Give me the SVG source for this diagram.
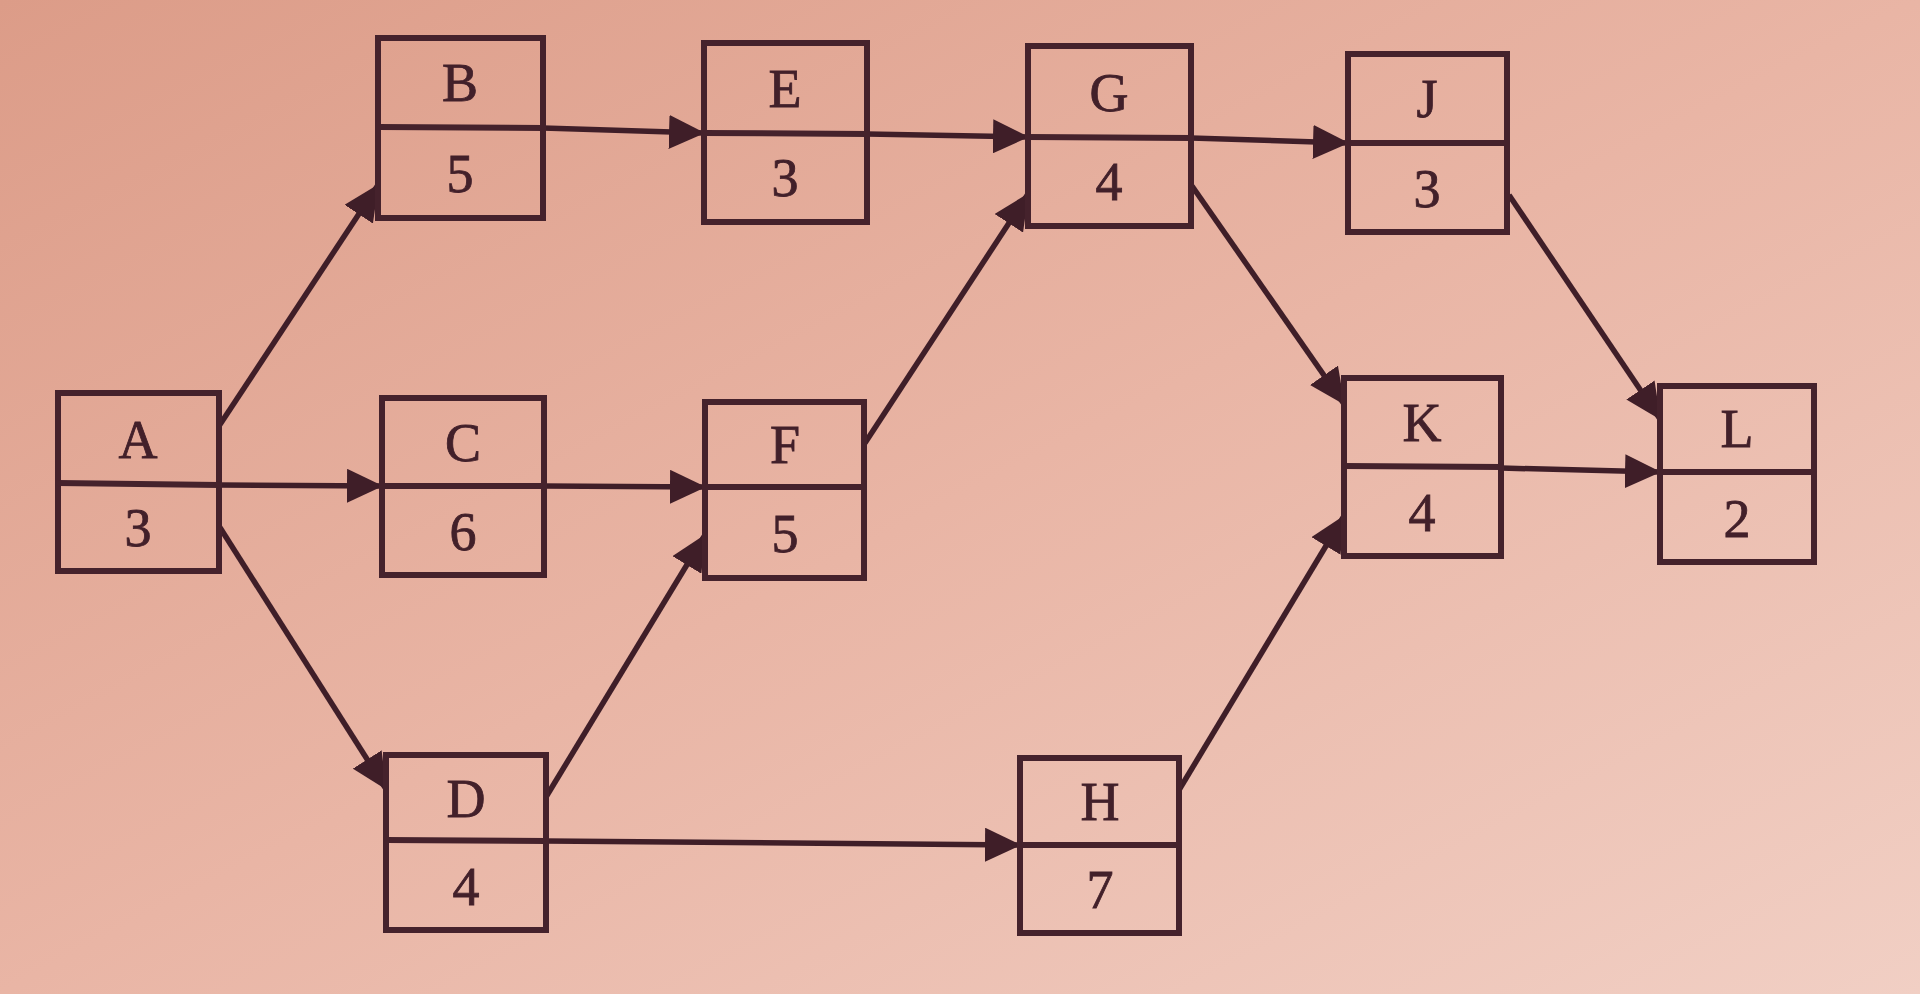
<svg xmlns="http://www.w3.org/2000/svg" width="1920" height="994" viewBox="0 0 1920 994">
<defs>
<linearGradient id="bg" x1="0" y1="0" x2="1" y2="1">
<stop offset="0" stop-color="#dc9c88"/>
<stop offset="0.5" stop-color="#e9b5a5"/>
<stop offset="1" stop-color="#f1cfc4"/>
</linearGradient>
<marker id="ah" viewBox="0 0 36 34" refX="35" refY="17" markerWidth="36" markerHeight="34" markerUnits="userSpaceOnUse" orient="auto">
<path d="M0,0 L36,17 L0,34 Z" fill="#3f1e28"/>
</marker>
<style>
.box{fill:none;stroke:#45222c;stroke-width:6}
.div{stroke:#45222c;stroke-width:6}
.lbl{font-family:"Liberation Serif","Times New Roman",serif;font-size:54px;fill:#42202a;stroke:#42202a;stroke-width:0.8;text-anchor:middle}
.edge{stroke:#3f1e28;stroke-width:5.5;fill:none;marker-end:url(#ah)}
</style>
</defs>
<rect width="1920" height="994" fill="url(#bg)"/>
<g id="connectors">
<line class="edge" x1="219" y1="426" x2="378" y2="185"/>
<line class="edge" x1="219" y1="485" x2="382" y2="486"/>
<line class="edge" x1="219" y1="526" x2="386" y2="789"/>
<line class="edge" x1="544" y1="486" x2="705" y2="487"/>
<line class="edge" x1="546" y1="797" x2="705" y2="535"/>
<line class="edge" x1="543" y1="128" x2="704" y2="133"/>
<line class="edge" x1="867" y1="134" x2="1028" y2="137"/>
<line class="edge" x1="865" y1="443" x2="1028" y2="194"/>
<line class="edge" x1="1191" y1="138" x2="1348" y2="143"/>
<line class="edge" x1="1192" y1="186" x2="1344" y2="404"/>
<line class="edge" x1="1179" y1="790" x2="1344" y2="516"/>
<line class="edge" x1="1509" y1="195" x2="1660" y2="419"/>
<line class="edge" x1="1501" y1="468" x2="1660" y2="472"/>
<line class="edge" x1="546" y1="841" x2="1020" y2="845"/>
</g>
<g id="node-A"><rect class="box" x="58" y="393" width="161" height="178"/><line class="div" x1="58" y1="483" x2="219" y2="485"/><text class="lbl" x="138" y="458">A</text><text class="lbl" x="138" y="546">3</text></g>
<g id="node-B"><rect class="box" x="378" y="38" width="165" height="180"/><line class="div" x1="378" y1="127" x2="543" y2="128"/><text class="lbl" x="460" y="101">B</text><text class="lbl" x="460" y="192">5</text></g>
<g id="node-E"><rect class="box" x="704" y="43" width="163" height="179"/><line class="div" x1="704" y1="133" x2="867" y2="134"/><text class="lbl" x="785" y="107">E</text><text class="lbl" x="785" y="196">3</text></g>
<g id="node-G"><rect class="box" x="1028" y="46" width="163" height="180"/><line class="div" x1="1028" y1="137" x2="1191" y2="138"/><text class="lbl" x="1109" y="111">G</text><text class="lbl" x="1109" y="200">4</text></g>
<g id="node-J"><rect class="box" x="1348" y="54" width="159" height="178"/><line class="div" x1="1348" y1="143" x2="1507" y2="143"/><text class="lbl" x="1427" y="117">J</text><text class="lbl" x="1427" y="207">3</text></g>
<g id="node-C"><rect class="box" x="382" y="398" width="162" height="177"/><line class="div" x1="382" y1="486" x2="544" y2="486"/><text class="lbl" x="463" y="461">C</text><text class="lbl" x="463" y="550">6</text></g>
<g id="node-F"><rect class="box" x="705" y="402" width="159" height="176"/><line class="div" x1="705" y1="487" x2="864" y2="487"/><text class="lbl" x="785" y="463">F</text><text class="lbl" x="785" y="552">5</text></g>
<g id="node-K"><rect class="box" x="1344" y="378" width="157" height="178"/><line class="div" x1="1344" y1="466" x2="1501" y2="467"/><text class="lbl" x="1422" y="441">K</text><text class="lbl" x="1422" y="531">4</text></g>
<g id="node-L"><rect class="box" x="1660" y="386" width="154" height="176"/><line class="div" x1="1660" y1="472" x2="1814" y2="472"/><text class="lbl" x="1737" y="447">L</text><text class="lbl" x="1737" y="537">2</text></g>
<g id="node-D"><rect class="box" x="386" y="755" width="160" height="175"/><line class="div" x1="386" y1="840" x2="546" y2="841"/><text class="lbl" x="466" y="817">D</text><text class="lbl" x="466" y="905">4</text></g>
<g id="node-H"><rect class="box" x="1020" y="758" width="159" height="175"/><line class="div" x1="1020" y1="845" x2="1179" y2="845"/><text class="lbl" x="1100" y="820">H</text><text class="lbl" x="1100" y="908">7</text></g>
</svg>
